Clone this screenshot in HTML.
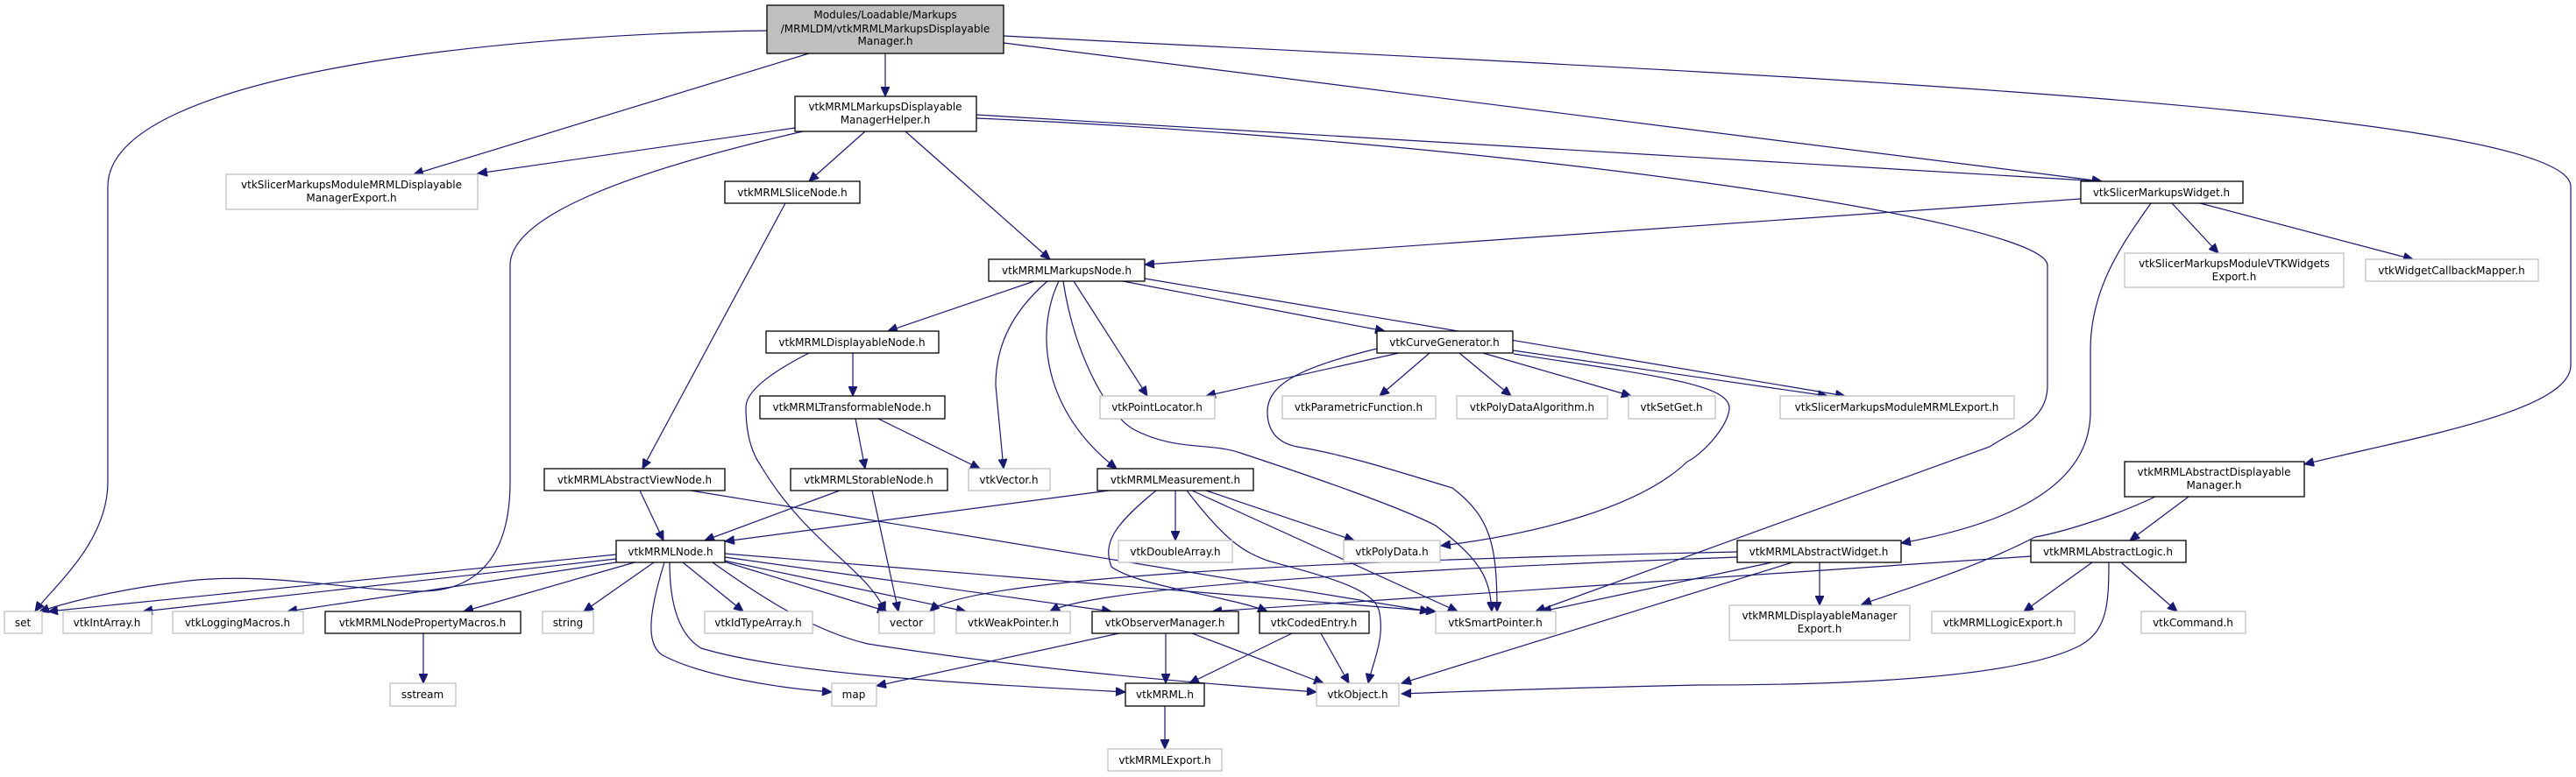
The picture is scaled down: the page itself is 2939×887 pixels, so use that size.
<!DOCTYPE html>
<html><head><meta charset="utf-8"><style>
html,body{margin:0;padding:0;background:#fff;width:2939px;height:887px;overflow:hidden}
svg{display:block}
text{font-family:"DejaVu Sans","Liberation Sans",sans-serif;font-size:12px;fill:#000;text-anchor:middle}
.b{fill:#fff;stroke:#000;stroke-width:1.3}
.g{fill:#fff;stroke:#bfbfbf;stroke-width:1.3}
.m{fill:#bfbfbf;stroke:#000;stroke-width:1.3}
path{fill:none;stroke:#191970;stroke-width:1.2}
</style></head><body>
<svg width="2939" height="887" viewBox="0 0 2939 887" xmlns="http://www.w3.org/2000/svg">
<defs><marker id="a" markerUnits="userSpaceOnUse" markerWidth="12" markerHeight="10" refX="11" refY="5" orient="auto"><path d="M0,0 L11,5 L0,10 Z" style="fill:#191970;stroke:#191970;stroke-width:1"/></marker></defs>
<g marker-end="url(#a)">
<path d="M875,35 C600,38 123,80 123,213 L123,550 C123,620 60,670 40,698"/>
<path d="M923,61 L472,199"/>
<path d="M1010,61 L1010,110"/>
<path d="M1145,49 L2398,207"/>
<path d="M1145,41 C1900,80 2933,120 2933,213 L2933,417 C2933,470 2750,500 2629,530"/>
<path d="M907,146 L545,198"/>
<path d="M916,150 C700,200 582,250 582,303 L582,550 C582,640 540,675 480,675 C400,675 300,650 200,665 C120,675 70,690 45,698"/>
<path d="M987,150 L923,207"/>
<path d="M1033,150 L1198,296"/>
<path d="M1114,131 L2398,207"/>
<path d="M1114,135 C1700,160 2336,250 2336,303 L2336,440 C2336,480 2300,490 2270,510 L1752,698"/>
<path d="M2454,232 C2420,280 2385,330 2385,400 L2385,470 C2385,560 2280,600 2169,620"/>
<path d="M2374,227 L1306,302"/>
<path d="M2478,232 L2531,289"/>
<path d="M2510,232 L2753,296"/>
<path d="M1180,321 L1013,378"/>
<path d="M1281,321 L1580,378"/>
<path d="M1306,318 L2105,452"/>
<path d="M1195,321 C1150,360 1136,400 1136,440 L1145,535"/>
<path d="M1208,321 C1180,380 1190,470 1274,535"/>
<path d="M1225,321 L1309,452"/>
<path d="M1213,321 C1225,400 1260,470 1293,490 C1340,515 1380,505 1415,517 C1500,545 1600,580 1638,600 C1690,640 1700,660 1702,698"/>
<path d="M1571,398 C1480,420 1446,440 1446,470 C1446,490 1455,505 1480,510 C1540,520 1600,540 1657,557 C1700,590 1708,620 1708,698"/>
<path d="M1596,403 L1376,452"/>
<path d="M1631,403 L1574,452"/>
<path d="M1665,403 L1724,452"/>
<path d="M1692,403 L1861,452"/>
<path d="M1726,400 L2085,452"/>
<path d="M1727,404 C1900,430 1975,440 1973,467 C1970,490 1940,520 1925,527 C1870,580 1750,610 1644,623"/>
<path d="M973,403 L973,452"/>
<path d="M923,403 C870,430 851,450 851,465 C851,500 860,520 867,530 C920,620 990,650 1010,698"/>
<path d="M1000,477 L1118,535"/>
<path d="M976,478 L987,535"/>
<path d="M958,560 L804,617"/>
<path d="M995,560 L1025,698"/>
<path d="M896,232 L733,535"/>
<path d="M730,560 L757,617"/>
<path d="M788,560 L1631,698"/>
<path d="M1265,560 L827,618"/>
<path d="M1341,560 L1341,617"/>
<path d="M1376,560 L1545,617"/>
<path d="M1360,560 L1663,698"/>
<path d="M1354,560 C1400,620 1420,630 1446,640 C1520,660 1570,673 1574,700 C1580,730 1565,760 1561,780"/>
<path d="M1319,560 C1270,600 1258,620 1268,647 C1300,670 1400,680 1446,698"/>
<path d="M703,633 L55,698"/>
<path d="M703,638 L163,698"/>
<path d="M703,642 L328,698"/>
<path d="M724,642 L529,698"/>
<path d="M746,642 L666,698"/>
<path d="M779,642 L848,698"/>
<path d="M758,642 C740,700 735,740 760,750 C800,770 880,785 949,790"/>
<path d="M764,642 C764,690 775,725 800,740 C900,770 1100,780 1284,790"/>
<path d="M813,642 C880,690 935,722 990,735 C1150,760 1300,775 1502,790"/>
<path d="M816,638 L1012,698"/>
<path d="M826,640 L1102,698"/>
<path d="M827,636 L1268,698"/>
<path d="M827,632 L1638,698"/>
<path d="M483,723 L483,780"/>
<path d="M1277,723 L1000,783"/>
<path d="M1330,723 L1330,780"/>
<path d="M1360,723 L1510,780"/>
<path d="M1474,723 L1357,780"/>
<path d="M1507,723 L1539,780"/>
<path d="M1329,806 L1329,855"/>
<path d="M1982,630 C1500,640 1100,660 1061,698"/>
<path d="M1982,636 C1600,650 1250,670 1198,698"/>
<path d="M2022,642 L1759,698"/>
<path d="M2045,642 L1599,780"/>
<path d="M2076,642 L2076,691"/>
<path d="M2317,635 L1383,698"/>
<path d="M2387,642 L2309,698"/>
<path d="M2420,642 L2484,698"/>
<path d="M2406,642 C2406,690 2404,720 2373,737 C2300,775 2100,782 1939,782 C1800,785 1700,788 1599,792"/>
<path d="M2497,567 L2430,617"/>
<path d="M2459,567 C2400,595 2340,610 2322,613 C2250,650 2180,670 2124,690"/>
</g>
<rect class="m" x="875" y="6" width="270" height="55"/>
<text x="1010" y="21">Modules/Loadable/Markups</text><text x="1010" y="37">/MRMLDM/vtkMRMLMarkupsDisplayable</text><text x="1010" y="51">Manager.h</text>
<rect class="b" x="907" y="110" width="207" height="40"/><text x="1010" y="126">vtkMRMLMarkupsDisplayable</text><text x="1010" y="141">ManagerHelper.h</text>
<rect class="g" x="258" y="199" width="287" height="40"/><text x="401" y="215">vtkSlicerMarkupsModuleMRMLDisplayable</text><text x="401" y="230">ManagerExport.h</text>
<rect class="b" x="827" y="207" width="154" height="25"/><text x="904" y="224">vtkMRMLSliceNode.h</text>
<rect class="b" x="2374" y="207" width="185" height="25"/><text x="2466" y="224">vtkSlicerMarkupsWidget.h</text>
<rect class="b" x="1128" y="296" width="178" height="25"/><text x="1217" y="313">vtkMRMLMarkupsNode.h</text>
<rect class="g" x="2424" y="289" width="250" height="39"/><text x="2549" y="305">vtkSlicerMarkupsModuleVTKWidgets</text><text x="2549" y="320">Export.h</text>
<rect class="g" x="2699" y="296" width="197" height="25"/><text x="2797" y="313">vtkWidgetCallbackMapper.h</text>
<rect class="b" x="874" y="378" width="197" height="25"/><text x="972" y="395">vtkMRMLDisplayableNode.h</text>
<rect class="b" x="1571" y="378" width="155" height="25"/><text x="1648" y="395">vtkCurveGenerator.h</text>
<rect class="b" x="867" y="452" width="211" height="26"/><text x="972" y="469">vtkMRMLTransformableNode.h</text>
<rect class="g" x="1255" y="452" width="131" height="26"/><text x="1320" y="469">vtkPointLocator.h</text>
<rect class="g" x="1463" y="452" width="175" height="26"/><text x="1550" y="469">vtkParametricFunction.h</text>
<rect class="g" x="1662" y="452" width="172" height="26"/><text x="1748" y="469">vtkPolyDataAlgorithm.h</text>
<rect class="g" x="1858" y="452" width="99" height="26"/><text x="1907" y="469">vtkSetGet.h</text>
<rect class="g" x="2031" y="452" width="267" height="26"/><text x="2164" y="469">vtkSlicerMarkupsModuleMRMLExport.h</text>
<rect class="b" x="621" y="535" width="206" height="25"/><text x="724" y="552">vtkMRMLAbstractViewNode.h</text>
<rect class="b" x="902" y="535" width="179" height="25"/><text x="991" y="552">vtkMRMLStorableNode.h</text>
<rect class="g" x="1105" y="535" width="93" height="25"/><text x="1151" y="552">vtkVector.h</text>
<rect class="b" x="1252" y="535" width="178" height="25"/><text x="1341" y="552">vtkMRMLMeasurement.h</text>
<rect class="b" x="2424" y="527" width="205" height="40"/><text x="2526" y="543">vtkMRMLAbstractDisplayable</text><text x="2526" y="558">Manager.h</text>
<rect class="b" x="703" y="617" width="124" height="25"/><text x="765" y="634">vtkMRMLNode.h</text>
<rect class="g" x="1276" y="617" width="130" height="25"/><text x="1341" y="634">vtkDoubleArray.h</text>
<rect class="g" x="1533" y="617" width="110" height="25"/><text x="1588" y="634">vtkPolyData.h</text>
<rect class="b" x="1982" y="617" width="187" height="25"/><text x="2075" y="634">vtkMRMLAbstractWidget.h</text>
<rect class="b" x="2317" y="617" width="177" height="25"/><text x="2405" y="634">vtkMRMLAbstractLogic.h</text>
<rect class="g" x="5" y="698" width="43" height="25"/><text x="26" y="715">set</text>
<rect class="g" x="72" y="698" width="101" height="25"/><text x="122" y="715">vtkIntArray.h</text>
<rect class="g" x="197" y="698" width="149" height="25"/><text x="271" y="715">vtkLoggingMacros.h</text>
<rect class="b" x="371" y="698" width="223" height="25"/><text x="482" y="715">vtkMRMLNodePropertyMacros.h</text>
<rect class="g" x="619" y="698" width="58" height="25"/><text x="648" y="715">string</text>
<rect class="g" x="804" y="698" width="123" height="25"/><text x="865" y="715">vtkIdTypeArray.h</text>
<rect class="g" x="1003" y="698" width="63" height="25"/><text x="1034" y="715">vector</text>
<rect class="g" x="1091" y="698" width="130" height="25"/><text x="1156" y="715">vtkWeakPointer.h</text>
<rect class="b" x="1246" y="698" width="167" height="25"/><text x="1329" y="715">vtkObserverManager.h</text>
<rect class="b" x="1437" y="698" width="125" height="25"/><text x="1499" y="715">vtkCodedEntry.h</text>
<rect class="g" x="1638" y="698" width="137" height="25"/><text x="1706" y="715">vtkSmartPointer.h</text>
<rect class="g" x="1973" y="691" width="206" height="40"/><text x="2076" y="707">vtkMRMLDisplayableManager</text><text x="2076" y="722">Export.h</text>
<rect class="g" x="2204" y="698" width="163" height="25"/><text x="2285" y="715">vtkMRMLLogicExport.h</text>
<rect class="g" x="2443" y="698" width="119" height="25"/><text x="2502" y="715">vtkCommand.h</text>
<rect class="g" x="445" y="780" width="75" height="26"/><text x="482" y="797">sstream</text>
<rect class="g" x="949" y="780" width="51" height="26"/><text x="974" y="797">map</text>
<rect class="b" x="1284" y="780" width="90" height="26"/><text x="1329" y="797">vtkMRML.h</text>
<rect class="g" x="1502" y="780" width="94" height="26"/><text x="1549" y="797">vtkObject.h</text>
<rect class="g" x="1264" y="855" width="130" height="25"/><text x="1329" y="872">vtkMRMLExport.h</text>
</svg>
</body></html>
